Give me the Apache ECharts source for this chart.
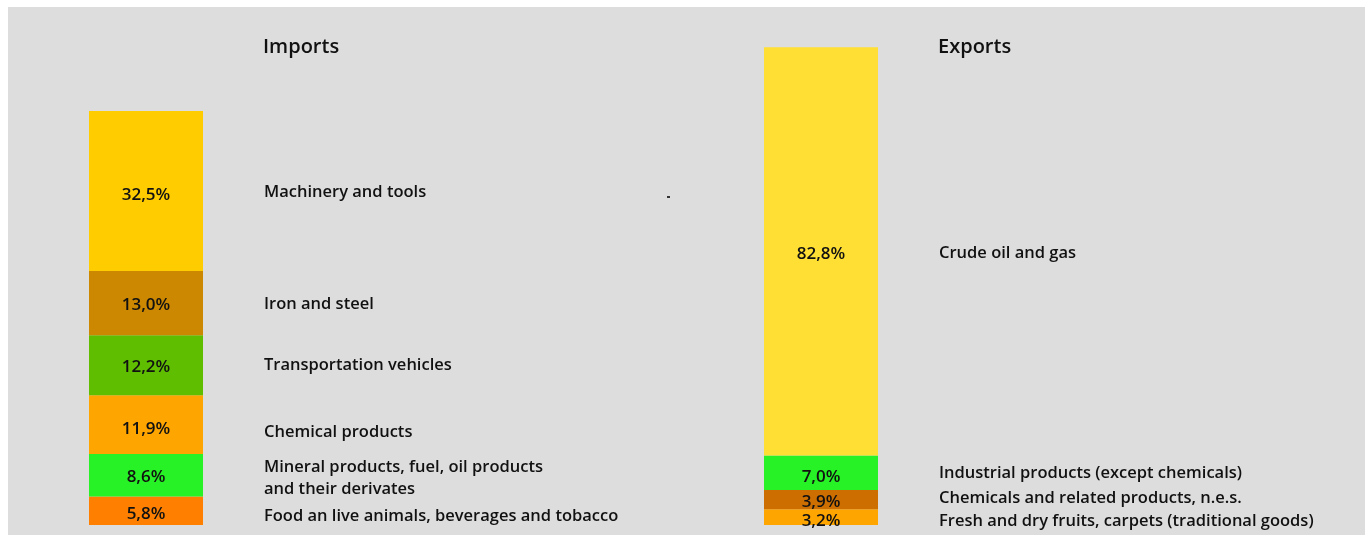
<!DOCTYPE html>
<html>

<head>
	<meta charset="utf-8" />
	<title>Imports / Exports</title>
	<script src="https://cdn.jsdelivr.net/npm/echarts@6/dist/echarts.min.js"></script>
	<style>
		html, body { margin: 0; padding: 0; background: #ffffff; }
		#main { width: 1369px; height: 535px; }
	</style>
</head>

<body>
	<div id="main"></div>
	<script type="text/javascript">
		// stacked bottom -> top
		var importNames = [
			'Food an live animals, beverages and tobacco',
			'Mineral products, fuel, oil products\nand their derivates',
			'Chemical products',
			'Transportation vehicles',
			'Iron and steel',
			'Machinery and tools'
		];
		var importValues = [5.8, 8.6, 11.9, 12.2, 13.0, 32.5];
		var importColors = ['#ff8000', '#26f226', '#ffa500', '#5fbe00', '#cc8800', '#ffcc00'];

		var exportNames = [
			'Fresh and dry fruits, carpets (traditional goods)',
			'Chemicals and related products, n.e.s.',
			'Industrial products (except chemicals)',
			'Crude oil and gas'
		];
		var exportValues = [3.2, 3.9, 7.0, 82.8];
		var exportColors = ['#ffa500', '#cc6e00', '#26f226', '#ffdf33'];

		var titles = ['Imports', 'Exports'];

		// small vertical nudges of the label text (px)
		var importNameShift = [6, 3, 8, 0, 1, 1];
		var importValShift = [3, 2, 4, 2, 2, 4];
		var exportNameShift = [4, -1, 1, 2];
		var exportValShift = [4, 3, 4, 3];

		var font = 'Open Sans';

		function pct(v) {
			return v.toFixed(1).replace('.', ',') + '%';
		}

		var series = [];
		function addGroup(idx, names, values, colors, nShift, vShift) {
			for (var i = 0; i < values.length; i++) {
				series.push({
					type: 'bar',
					xAxisIndex: idx,
					yAxisIndex: idx,
					stack: 'v' + idx,
					barWidth: 114,
					barGap: '-100%',
					silent: true,
					data: [values[i]],
					itemStyle: { color: colors[i] },
					label: {
						show: true,
						position: 'inside',
						offset: [0, vShift[i]],
						formatter: pct(values[i]),
						color: '#111',
						fontFamily: font,
						fontWeight: 600,
						fontSize: 17
					}
				});
				series.push({
					type: 'bar',
					xAxisIndex: idx,
					yAxisIndex: idx,
					stack: 'n' + idx,
					barWidth: 114,
					barGap: '-100%',
					silent: true,
					data: [values[i]],
					itemStyle: { color: 'rgba(0,0,0,0)' },
					label: {
						show: true,
						position: 'right',
						distance: 61,
						offset: [0, nShift[i]],
						formatter: names[i],
						color: '#111',
						fontFamily: font,
						fontWeight: 600,
						fontSize: 16.5,
						lineHeight: 22,
						align: 'left'
					}
				});
			}
		}
		addGroup(0, importNames, importValues, importColors, importNameShift, importValShift);
		addGroup(1, exportNames, exportValues, exportColors, exportNameShift, exportValShift);

		var myChart = echarts.init(document.getElementById('main'));

		var option = {
			animation: false,
			backgroundColor: '#ffffff',
			graphic: [
				{ type: 'rect', z: -10, shape: { x: 8, y: 7, width: 1357, height: 530 }, style: { fill: '#dddddd' } },
				{ type: 'rect', z: 10, shape: { x: 667, y: 196, width: 3, height: 2 }, style: { fill: '#333' } }
			],
			title: [
				{ text: titles[0], left: 263, top: 37, padding: 0, textStyle: { fontFamily: font, fontWeight: 600, fontSize: 20, color: '#111' } },
				{ text: titles[1], left: 938, top: 37, padding: 0, textStyle: { fontFamily: font, fontWeight: 600, fontSize: 20, color: '#111' } }
			],
			grid: [
				{ left: 89, width: 114, top: 32, bottom: 10 },
				{ left: 764, width: 114, top: 32, bottom: 10 }
			],
			xAxis: [
				{ gridIndex: 0, type: 'category', data: [''], show: false },
				{ gridIndex: 1, type: 'category', data: [''], show: false }
			],
			yAxis: [
				{ gridIndex: 0, type: 'value', min: 0, max: 100, show: false },
				{ gridIndex: 1, type: 'value', min: 0, max: 100, show: false }
			],
			series: series
		};

		myChart.setOption(option);
	</script>
</body>

</html>
